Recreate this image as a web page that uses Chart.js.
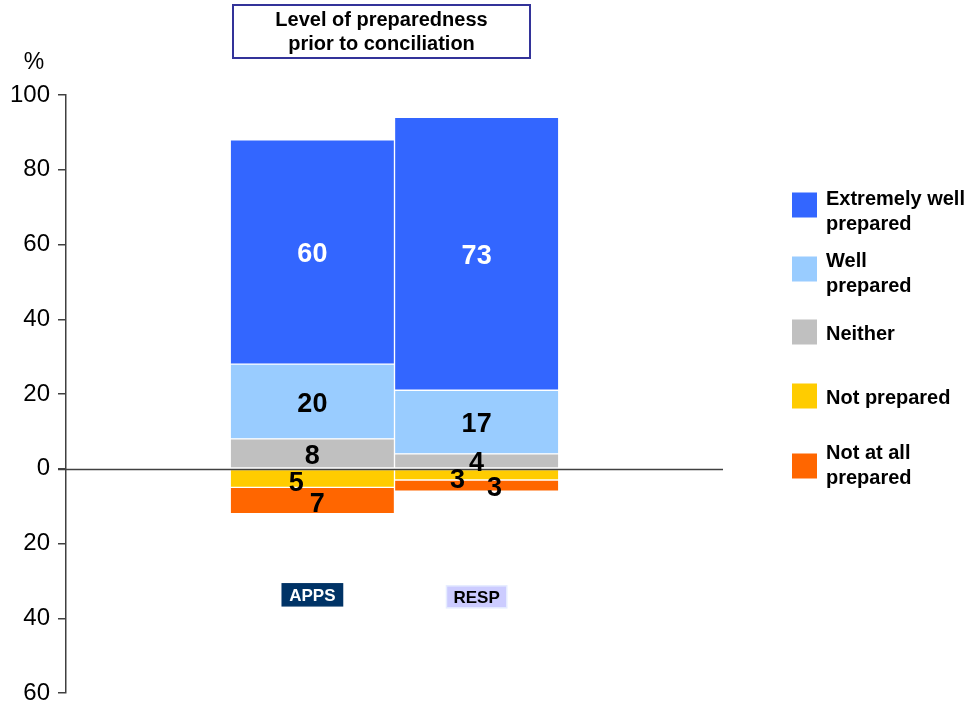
<!DOCTYPE html>
<html>
<head>
<meta charset="utf-8">
<script src="https://cdn.jsdelivr.net/npm/chart.js@4.4.1/dist/chart.umd.min.js"></script>
<style>
	body { margin: 0; background: #fff; }
	#wrap { width: 975px; height: 707px; }
</style>
</head>
<body>
<div id="wrap"><canvas id="prep" width="975" height="707"></canvas></div>
<script>
	// values (%)
	var groups = ['APPS', 'RESP'];
	var extremelyWell = [60, 73];
	var well = [20, 17];
	var neither = [8, 4];
	var notPrepared = [5, 3];
	var notAtAll = [7, 3];

	var titleLines = ['Level of preparedness', 'prior to conciliation'];
	var legendLines = [
		['Extremely well', 'prepared'],
		['Well', 'prepared'],
		['Neither'],
		['Not prepared'],
		['Not at all', 'prepared']
	];

	var FONT = '"Liberation Sans", Arial, sans-serif';
	Chart.defaults.font.family = FONT;

	// one empty slot each side so the two bars sit in the middle of the axis
	function pad(arr, sign) {
		return [null].concat(arr.map(function(v) { return v * sign; }), [null]);
	}

	var datasets = [
		{ label: 'Neither', data: pad(neither, 1), backgroundColor: '#C0C0C0', legend: 2, textColor: '#000' },
		{ label: 'Well prepared', data: pad(well, 1), backgroundColor: '#99CCFF', legend: 1, textColor: '#000' },
		{ label: 'Extremely well prepared', data: pad(extremelyWell, 1), backgroundColor: '#3366FF', legend: 0, textColor: '#fff' },
		{ label: 'Not prepared', data: pad(notPrepared, -1), backgroundColor: '#FFCC00', legend: 3, textColor: '#000',
			shift: [[-16, 2], [-19, 3]] },
		{ label: 'Not at all prepared', data: pad(notAtAll, -1), backgroundColor: '#FF6600', legend: 4, textColor: '#000',
			shift: [[5, 1], [18, 0]] }
	];
	datasets.forEach(function(ds) {
		ds.borderColor = '#fff';
		ds.borderWidth = 1;
		ds.borderSkipped = false;
		ds.barPercentage = 1;
		ds.categoryPercentage = 1;
		ds.stack = 'all';
	});

	var decorations = {
		id: 'decorations',
		afterDatasetsDraw: function(chart) {
			var ctx = chart.ctx;
			var area = chart.chartArea;
			var y = chart.scales.y;
			ctx.save();

			// zero line
			var y0 = Math.round(y.getPixelForValue(0)) + 0.5;
			ctx.strokeStyle = '#404040';
			ctx.lineWidth = 1.5;
			ctx.beginPath();
			ctx.moveTo(area.left - 8, y0);
			ctx.lineTo(area.right, y0);
			ctx.stroke();

			// value labels
			ctx.font = 'bold 27px ' + FONT;
			ctx.textAlign = 'center';
			ctx.textBaseline = 'middle';
			chart.data.datasets.forEach(function(ds, di) {
				var meta = chart.getDatasetMeta(di);
				meta.data.forEach(function(bar, i) {
					var v = ds.data[i];
					if (v == null) return;
					var p = bar.getProps(['x', 'y', 'base'], true);
					var s = ds.shift ? ds.shift[i - 1] : [0, 0];
					ctx.fillStyle = ds.textColor;
					ctx.fillText(String(Math.abs(v)), p.x + s[0], (p.y + p.base) / 2 + s[1] + 3);
				});
			});

			// group labels under the bars
			var boxStyles = [
				{ fill: '#003366', stroke: '#003366', text: '#fff', dy: -1 },
				{ fill: '#CCCCFF', stroke: '#E6ECFF', text: '#000', dy: 1 }
			];
			ctx.font = 'bold 17px ' + FONT;
			var bars = chart.getDatasetMeta(0).data;
			groups.forEach(function(g, i) {
				var st = boxStyles[i];
				var cx = bars[i + 1].x;
				var cy = y.getPixelForValue(-34) + st.dy;
				var w = ctx.measureText(g).width + 14;
				ctx.fillStyle = st.fill;
				ctx.fillRect(cx - w / 2, cy - 11, w, 22);
				ctx.strokeStyle = st.stroke;
				ctx.lineWidth = 1.5;
				ctx.strokeRect(cx - w / 2, cy - 11, w, 22);
				ctx.fillStyle = st.text;
				ctx.fillText(g, cx, cy + 1);
			});

			// title box
			ctx.strokeStyle = '#333399';
			ctx.lineWidth = 2;
			ctx.strokeRect(233, 5, 297, 53);
			ctx.fillStyle = '#000';
			ctx.font = 'bold 20px ' + FONT;
			titleLines.forEach(function(t, k) {
				ctx.fillText(t, 381.5, 20 + k * 24);
			});

			// "%" above the axis
			ctx.font = '23px ' + FONT;
			ctx.fillText('%', 34, 63);

			// legend
			var rows = [205, 269, 332, 396, 466];
			var textShift = [7, 5, 2, 2, 0];
			ctx.textAlign = 'left';
			ctx.font = 'bold 20px ' + FONT;
			chart.data.datasets.forEach(function(ds) {
				var k = ds.legend;
				var cy = rows[k];
				ctx.fillStyle = ds.backgroundColor;
				ctx.fillRect(792, cy - 12.5, 25, 25);
				ctx.fillStyle = '#000';
				var lines = legendLines[k];
				var top = cy + textShift[k] - (lines.length - 1) * 12.5;
				lines.forEach(function(t, j) {
					ctx.fillText(t, 826, top + j * 25);
				});
			});
			ctx.restore();
		}
	};

	window.onload = function() {
		var prepCTX = document.getElementById('prep').getContext('2d');
		new Chart(prepCTX, {
			type: 'bar',
			data: { labels: [''].concat(groups, ['']), datasets: datasets },
			options: {
				responsive: false,
				animation: false,
				layout: { padding: { top: 95, right: 252, bottom: 14, left: 0 } },
				plugins: {
					legend: { display: false },
					tooltip: { enabled: false }
				},
				scales: {
					x: { stacked: true, display: false },
					y: {
						stacked: true,
						min: -60,
						max: 100,
						ticks: {
							stepSize: 20,
							padding: 8,
							color: '#000',
							font: { size: 24 },
							callback: function(v) { return Math.abs(v); }
						},
						grid: { drawOnChartArea: false, tickLength: 8, color: '#404040', lineWidth: 1.5 },
						border: { display: true, color: '#404040', width: 1.5 },
						afterFit: function(scale) {
							scale.width = 66;
							scale.paddingTop = 0;
							scale.paddingBottom = 0;
						}
					}
				}
			},
			plugins: [decorations]
		});
	};
</script>
</body>
</html>
